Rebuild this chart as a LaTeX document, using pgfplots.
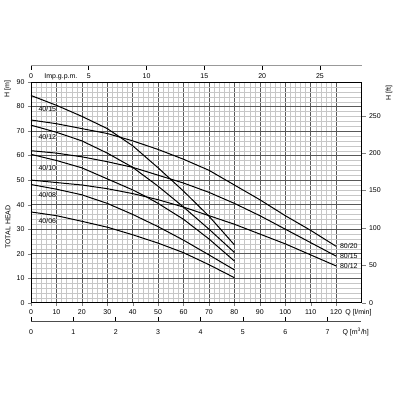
\documentclass[border=0pt]{standalone}
\usepackage{fontspec}
\setmainfont{Liberation Sans}
\usepackage{pgfplots}
\pgfplotsset{compat=1.18}

\newcommand{\sm}{\fontsize{7}{8}\selectfont}

\pgfplotsset{
  pumpbox/.style={
    scale only axis, width=330.5pt, height=220.7pt,
    xmin=0, xmax=130, clip=false,
    ticklabel style={font=\sm},
    /pgf/number format/assume math mode=true,
  },
  strip/.style={
    scale only axis, width=330.5pt, height=1pt,
    anchor=south west, ymin=0, ymax=1, clip=false,
    axis y line=none, axis x line*=bottom,
    ticklabel style={font=\sm},
    /pgf/number format/assume math mode=true,
  },
  curve/.style={black, line width=1pt},
}

\begin{document}
\begin{tikzpicture}
\useasboundingbox (-31pt,-97.3pt) rectangle (369pt,302.7pt);

% main chart, Q in l/min, H in m
\begin{axis}[pumpbox,
  ymin=0, ymax=90,
  xtick={0,10,...,120}, ytick={0,10,...,90},
  minor x tick num=4, minor y tick num=4,
  grid=both,
  major grid style={black!65, line width=0.5pt},
  minor grid style={black!22, line width=0.25pt},
  xtick pos=bottom, ytick pos=left,
  tick align=outside, major tick length=3pt, minor tick length=0pt,
  axis line style={line width=0.7pt},
]
\addplot[curve] coordinates {(0,84.5) (10,80.5) (20,76) (30,71) (40,64) (50,55) (60,45.5) (70,35.3) (80,23.6)};
\addplot[curve] coordinates {(0,72.4) (10,69.5) (20,66) (30,61) (40,55.2) (50,47.5) (60,39) (70,30) (80,20.5)};
\addplot[curve] coordinates {(0,60.5) (10,58) (20,55) (30,50.5) (40,46) (45,43.4) (50,40.5) (60,34) (70,26) (80,17)};
\addplot[curve] coordinates {(0,48.2) (10,46.3) (20,44) (30,40.5) (40,36) (50,31) (60,25.5) (70,19.5) (80,13.4)};
\addplot[curve] coordinates {(0,37) (10,35.5) (20,33.2) (30,30.8) (40,27.7) (50,24.3) (60,20.4) (70,15.5) (80,10.2)};
\addplot[curve] coordinates {(0,74.5) (10,73) (20,71) (30,69) (40,66) (50,62.5) (60,58.5) (70,54) (80,48) (90,42) (100,35.5) (110,29.5) (120,23)};
\addplot[curve] coordinates {(0,62) (10,61) (20,59.5) (30,57.5) (40,55.2) (50,52) (60,48.8) (70,45) (80,40.5) (90,35.5) (100,30) (110,24.5) (120,19)};
\addplot[curve] coordinates {(0,50) (10,49) (20,48) (30,46.5) (40,44.5) (50,42) (60,39) (70,35.5) (80,32) (90,28) (100,24) (110,19.5) (120,15)};

\node[anchor=west, font=\sm, inner sep=0.5pt] at (axis cs:2.7,79) {40/15};
\node[anchor=west, font=\sm, inner sep=0.5pt] at (axis cs:2.7,67.6) {40/12};
\node[anchor=west, font=\sm, inner sep=0.5pt] at (axis cs:2.7,55.1) {40/10};
\node[anchor=west, font=\sm, inner sep=0.5pt] at (axis cs:2.7,44.1) {40/08};
\node[anchor=west, font=\sm, inner sep=0.5pt] at (axis cs:2.7,33.2) {40/06};
\node[anchor=west, font=\sm, inner sep=0.5pt] at (axis cs:121.3,23.2) {80/20};
\node[anchor=west, font=\sm, inner sep=0.5pt] at (axis cs:121.3,19.1) {80/15};
\node[anchor=west, font=\sm, inner sep=0.5pt] at (axis cs:121.3,14.8) {80/12};

\node[anchor=north west, font=\sm, yshift=-3pt] at (axis cs:122.3,0) {Q [l/min]};
\end{axis}

% right scale in feet
\begin{axis}[pumpbox,
  ymin=0, ymax=295.276,
  axis x line=none, axis y line*=right,
  ytick={0,50,...,250},
  tick align=outside, major tick length=4pt,
  axis line style={draw=none},
]
\end{axis}

% top scale, Imp. g.p.m.
\begin{axis}[strip, at={(0,237.7pt)},
  xmin=0, xmax=28.596,
  xtick={0,5,...,25},
  tick align=outside, major tick length=5pt,
  axis line style={black!40, line width=1pt},
  tick style={black, line width=0.7pt},
]
\node[anchor=north west, font=\sm, yshift=-5pt] at (axis cs:0.85,0) {Imp.g.p.m.};
\end{axis}

% bottom scale, m3/h
\begin{axis}[strip, at={(0,-18.3pt)},
  xmin=0, xmax=7.8,
  xtick={0,1,...,7},
  tick align=inside, major tick length=4pt,
  xticklabel style={yshift=-5pt},
  axis line style={black!70, line width=0.6pt},
  tick style={black, line width=0.6pt},
]
\node[anchor=north west, font=\sm, yshift=-3pt] at (axis cs:7.27,0) {Q [m\textsuperscript{3}/h]};
\end{axis}

\node[rotate=90, font=\sm] at (-23.5pt,213.7pt) {H [m]};
\node[rotate=90, font=\sm] at (-23pt,75.7pt) {TOTAL HEAD};
\node[rotate=90, font=\sm] at (358pt,209.7pt) {H [ft]};
\end{tikzpicture}
\end{document}
